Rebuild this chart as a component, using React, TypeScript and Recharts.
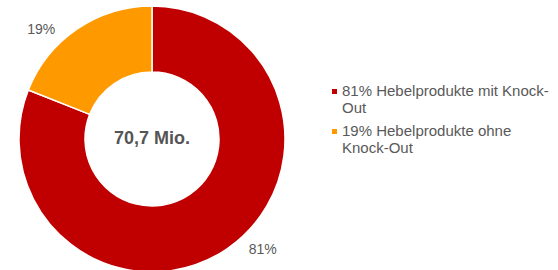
import { PieChart, Pie, Cell, Legend } from "recharts";

const SEGMENT_NAMES = ["Hebelprodukte mit Knock-Out", "Hebelprodukte ohne Knock-Out"];
const SEGMENT_SHARES = [81, 19];
const SEGMENT_COLORS = ["#c00000", "#ff9900"];
const TOTAL_LABEL = "70,7 Mio.";

const CHART_DATA = SEGMENT_NAMES.map((name, i) => ({
  name,
  value: SEGMENT_SHARES[i],
  color: SEGMENT_COLORS[i],
}));

const FONT = "'Liberation Sans', Arial, sans-serif";
const TEXT_COLOR = "#595959";
const RADIAN = Math.PI / 180;

const renderOuterLabel = (props: any) => {
  const { cx, cy, midAngle, outerRadius, value } = props;
  const cos = Math.cos(-midAngle * RADIAN);
  const sin = Math.sin(-midAngle * RADIAN);
  const x = cx + (outerRadius + 39) * cos;
  const y = cy + outerRadius * sin;
  return (
    <text
      x={x}
      y={y}
      fill={TEXT_COLOR}
      fontSize={14}
      fontFamily={FONT}
      textAnchor={cos >= 0 ? "start" : "end"}
      dominantBaseline="central"
    >
      {`${value}%`}
    </text>
  );
};

const LegendContent = () => (
  <div style={{ fontFamily: FONT, fontSize: 15, lineHeight: "16.5px", color: TEXT_COLOR }}>
    {CHART_DATA.map((entry) => (
      <div key={entry.name} style={{ display: "flex", alignItems: "flex-start", marginBottom: 7 }}>
        <span
          style={{
            width: 5,
            height: 5,
            background: entry.color,
            marginTop: 6,
            marginRight: 5,
            flexShrink: 0,
          }}
        />
        <span style={{ width: 214 }}>{`${entry.value}% ${entry.name}`}</span>
      </div>
    ))}
  </div>
);

export default function App() {
  return (
    <div style={{ position: "absolute", left: 0, top: 0, width: 558, height: 270, background: "#fff", overflow: "hidden" }}>
      <PieChart width={558} height={270} margin={{ top: 0, right: 0, bottom: 0, left: 0 }}>
        <Pie
          data={CHART_DATA}
          dataKey="value"
          nameKey="name"
          cx={152}
          cy={139}
          innerRadius={67}
          outerRadius={133}
          startAngle={90}
          endAngle={-270}
          stroke="#ffffff"
          strokeWidth={1.5}
          label={renderOuterLabel}
          labelLine={false}
          isAnimationActive={false}
        >
          {CHART_DATA.map((entry) => (
            <Cell key={entry.name} fill={entry.color} />
          ))}
        </Pie>
        <text
          x={152}
          y={138}
          textAnchor="middle"
          dominantBaseline="central"
          fontFamily={FONT}
          fontSize={18}
          fontWeight="bold"
          fill="#555555"
        >
          {TOTAL_LABEL}
        </text>
        <Legend
          content={<LegendContent />}
          layout="vertical"
          wrapperStyle={{ left: 332, top: 83, width: 226 }}
        />
      </PieChart>
    </div>
  );
}
